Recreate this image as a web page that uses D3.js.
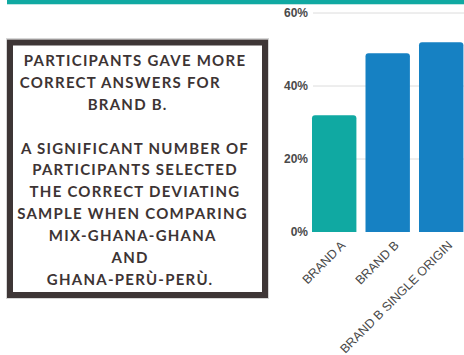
<!DOCTYPE html>
<html>
<head>
<meta charset="utf-8">
<script src="https://cdn.jsdelivr.net/npm/d3@7"></script>
<style>
  html, body { margin: 0; padding: 0; background: #fff; }
  svg { display: block; }
</style>
</head>
<body>
<svg id="chart" width="464" height="355"></svg>
<script>
// Chart data
const categories = ["BRAND A", "BRAND B", "BRAND B SINGLE ORIGIN"];
const correctShare = [32, 49, 52];
const barColors = ["#10a9a2", "#1681c3", "#1681c3"];
const yTicks = [0, 20, 40, 60];

// Note text shown in the framed box
const noteLines = [
  "PARTICIPANTS GAVE MORE",
  "CORRECT ANSWERS FOR      ",
  "BRAND B.   ",
  "",
  "A SIGNIFICANT NUMBER OF",
  "PARTICIPANTS SELECTED",
  "THE CORRECT DEVIATING",
  "SAMPLE WHEN COMPARING ",
  "MIX-GHANA-GHANA ",
  "AND  ",
  "GHANA-PERÙ-PERÙ.  "
];

const svg = d3.select("#chart");

// Header stripe
svg.append("rect").attr("x", 7).attr("y", 0).attr("width", 457).attr("height", 4)
  .attr("fill", "#10a9a2");
svg.append("rect").attr("x", 7).attr("y", 4).attr("width", 457).attr("height", 1)
  .attr("fill", "#bfe6e3");

// Framed note
const box = svg.append("g");
box.append("rect").attr("x", 6.5).attr("y", 38.5).attr("width", 262).attr("height", 260)
  .attr("fill", "none").attr("stroke", "#d6d6d6").attr("stroke-width", 1);
box.append("rect").attr("x", 10).attr("y", 42.5).attr("width", 255).attr("height", 252.5)
  .attr("fill", "#fff").attr("stroke", "#3e3636").attr("stroke-width", 6);

box.selectAll("text.note").data(noteLines).join("text")
  .attr("class", "note")
  .attr("x", 135)
  .attr("y", (d, i) => 65.7 + i * 21.95)
  .attr("text-anchor", "middle")
  .attr("xml:space", "preserve")
  .style("white-space", "pre")
  .attr("font-family", "Lato, sans-serif")
  .attr("font-weight", 700)
  .attr("font-size", 15)
  .attr("letter-spacing", 1.25)
  .attr("fill", "#3d3434")
  .text(d => d);

// Bar chart
const y = d3.scaleLinear().domain([0, 60]).range([232, 13]);
const x = d3.scaleBand().domain(categories).range([312, 463.4]).paddingInner(0.17).paddingOuter(0);

const g = svg.append("g");

// Gridlines
g.selectAll("line.grid").data(yTicks.filter(t => t > 0)).join("line")
  .attr("class", "grid")
  .attr("x1", 313).attr("x2", 464)
  .attr("y1", d => y(d)).attr("y2", d => y(d))
  .attr("stroke", "#dcdcdc").attr("stroke-width", 1);

// Y axis labels
const yAxis = d3.axisLeft(y).tickValues(yTicks).tickFormat(d => d + "%").tickSize(0).tickPadding(4);
const yg = g.append("g").attr("transform", "translate(308,0)").call(yAxis);
yg.select(".domain").remove();
yg.selectAll("text")
  .attr("font-family", "Liberation Sans, Arial, sans-serif")
  .attr("font-weight", 700)
  .attr("font-size", 12)
  .attr("fill", "#4a4a4a")
  .attr("x", 0);

// Bars with rounded tops
const r = 3;
function barPath(d, i) {
  const x0 = x(categories[i]), w = x.bandwidth();
  const y0 = y(0), y1 = y(d);
  return `M${x0},${y0}V${y1 + r}Q${x0},${y1} ${x0 + r},${y1}H${x0 + w - r}Q${x0 + w},${y1} ${x0 + w},${y1 + r}V${y0}Z`;
}
g.selectAll("path.bar").data(correctShare).join("path")
  .attr("class", "bar")
  .attr("d", barPath)
  .attr("fill", (d, i) => barColors[i]);

// X axis labels, rotated
const xAxis = d3.axisBottom(x).tickSize(0).tickPadding(0);
const xg = g.append("g").attr("transform", "translate(0,232)").call(xAxis);
xg.select(".domain").remove();
xg.selectAll(".tick text")
  .attr("font-family", "Liberation Sans, Arial, sans-serif")
  .attr("font-size", 12.5)
  .attr("fill", "#484848")
  .attr("text-anchor", "end")
  .attr("transform", "translate(12,14) rotate(-45)")
  .attr("x", 0).attr("y", 0).attr("dy", 0);
</script>
</body>
</html>
